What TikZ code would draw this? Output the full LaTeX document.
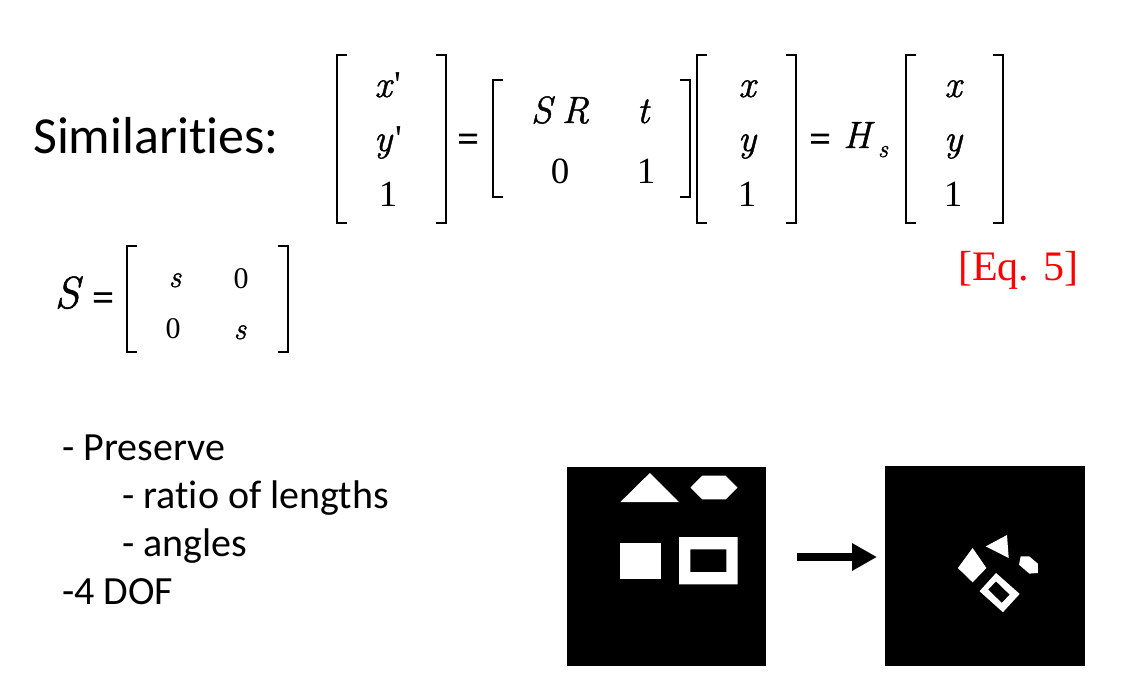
\documentclass[tikz,border=0pt]{standalone}
\usepackage{fontspec}
\setmainfont{Carlito}[Ligatures={NoCommon,NoContextual}]
\newfontfamily\tms{Liberation Serif}
\newfontfamily\tmsb{Liberation Serif}[FakeBold=2]
\newfontfamily\lmr{Latin Modern Roman}[FakeBold=1.2]
\newcommand\tmsit{\lmr\itshape}
\usetikzlibrary{arrows.meta}
\newcommand\mylb[3]{\draw[brk] ({#1+10},#2) -- (#1,#2) -- (#1,#3) -- ({#1+10},#3);}
\newcommand\myrb[3]{\draw[brk] ({#1-10},#2) -- (#1,#2) -- (#1,#3) -- ({#1-10},#3);}
\begin{document}
\begin{tikzpicture}[x=1pt,y=-1pt,
  brk/.style={line width=2.6pt, line cap=butt, line join=miter},
  ent/.style={inner sep=0pt, anchor=base, font=\tmsit\fontsize{38}{40}\selectfont},
  num/.style={inner sep=0pt, anchor=base, font=\tms\fontsize{37}{40}\selectfont},
  eqs/.style={inner sep=0pt, anchor=base, font=\tmsb\fontsize{37}{40}\selectfont},
  sent/.style={inner sep=0pt, anchor=base, font=\tmsit\fontsize{31}{32}\selectfont},
  snum/.style={inner sep=0pt, anchor=base, font=\tms\fontsize{30}{32}\selectfont},
  txt/.style={inner sep=0pt, anchor=base west, font=\fontsize{40}{44}\selectfont},
  img/.style={fill=black, draw=none, minimum width=199pt, minimum height=199pt, inner sep=0pt, anchor=north west},
  shp/.style={fill=white, draw=none}
]
\useasboundingbox[fill=white] (0,0) rectangle (1130,689);

% title
\node[inner sep=0pt, anchor=base west, font=\fontsize{52}{56}\selectfont] (sim) at (33,153) {Similarities:};

% matrix 1
\mylb{337}{55}{223}\myrb{446}{55}{223}
\node[ent] (m1a) at (388,97) {x\kern3pt{\tms\upshape\textquotesingle}};
\node[ent] (m1b) at (388,151) {y\kern3pt{\tms\upshape\textquotesingle}};
\node[num] (m1c) at (388,206) {1};
\node[eqs] (eq1) at (468,151) {=};
% matrix 2
\mylb{493}{80}{197}\myrb{690}{80}{197}
\node[ent] (m2a) at (560,123) {S\kern10pt R};
\node[ent] (m2b) at (643,123) {t};
\node[num] (m2c) at (560,183) {0};
\node[num] (m2d) at (646,183) {1};
% matrix 3
\mylb{697}{55}{223}\myrb{796}{55}{223}
\node[ent] (m3a) at (747,97) {x};
\node[ent] (m3b) at (747,151) {y};
\node[num] (m3c) at (747,206) {1};
\node[eqs] (eq2) at (820,151) {=};
\node[ent] (hh) at (857,148) {H};
\node[inner sep=0pt, anchor=base, font=\tmsit\fontsize{25}{26}\selectfont] (hs) at (883,157) {s};
% matrix 4
\mylb{906}{55}{223}\myrb{1003}{55}{223}
\node[ent] (m4a) at (953,97) {x};
\node[ent] (m4b) at (953,151) {y};
\node[num] (m4c) at (953,206) {1};

% Eq. 5
\node[inner sep=0pt, anchor=base west, text=red, font=\tms\fontsize{42}{46}\selectfont] (eqn) at (958,280) {[Eq. 5]};

% S matrix
\node[inner sep=0pt, anchor=base, font=\tmsit\fontsize{45}{48}\selectfont] (sS) at (67,308) {S};
\node[inner sep=0pt, anchor=base, font=\tmsb\fontsize{38}{40}\selectfont] (sEq) at (103,310) {=};
\mylb{127}{246}{352}\myrb{288}{246}{352}
\node[sent] (sa) at (175,287) {s};
\node[snum] (sb) at (241,288) {0};
\node[snum] (sc) at (173,338) {0};
\node[sent] (sd) at (240,339) {s};

% bullets
\node[txt] (b1) at (62,460) {- Preserve};
\node[txt] (b2) at (122,508) {- ratio of lengths};
\node[txt] (b3) at (122,556) {- angles};
\node[txt] (b4) at (62,604) {-4 DOF};

% images
\node[img] (imgA) at (567,467) {};
\node[img, minimum width=200pt, minimum height=200pt] (imgB) at (885,466) {};

% image A shapes
\fill[shp] (649.8,473) -- (679,502) -- (620.4,502) -- cycle;
\fill[shp] (690.4,487.6) -- (702.2,475.6) -- (725.6,475.6) -- (737.6,487.6) -- (725.6,499.4) -- (702.2,499.4) -- cycle;
\fill[shp] (619.8,543) rectangle (660.8,578.6);
\fill[shp, even odd rule] (679,537) rectangle (737.6,584.4) (690.4,549.4) rectangle (726.4,572);

% image B shapes
\fill[shp] (985.7,546.4) -- (1007,535) -- (1008.7,558) -- cycle;
\fill[shp] (972.6,548) -- (986.4,568) -- (972.6,582.3) -- (957.9,568) -- cycle;
\fill[shp] (1020.7,556.4) -- (1029.3,556.4) -- (1037.9,563.7) -- (1037.9,573) -- (1029.3,573.6) -- (1019,564.7) -- cycle;
\fill[shp, even odd rule] (996,573) -- (1019.7,593.9) -- (1002.9,612.2) -- (979.5,591.2) -- cycle
  (996,581.3) -- (1009.7,594.6) -- (1001.8,602.9) -- (988.1,589.6) -- cycle;

% arrow
\coordinate (as) at (797,557);
\coordinate (ae) at (877,557);
\draw[line width=8pt, -{Triangle[length=25pt,width=26pt]}] (as) -- (ae);
\end{tikzpicture}
\end{document}
